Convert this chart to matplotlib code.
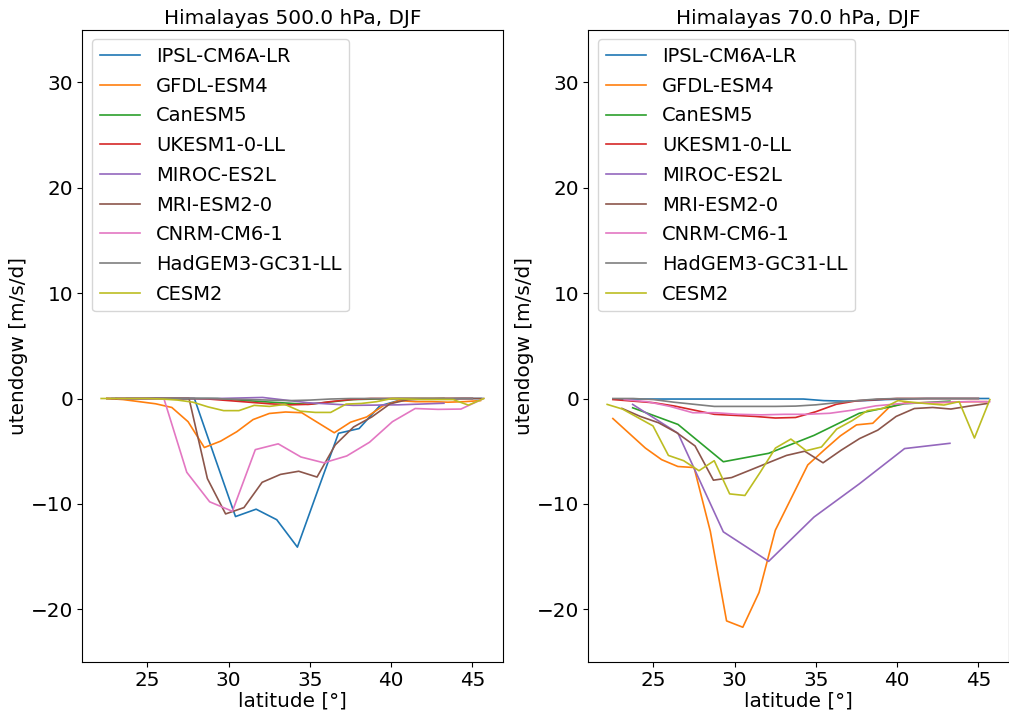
import matplotlib.pyplot as plt

models = ["IPSL-CM6A-LR", "GFDL-ESM4", "CanESM5", "UKESM1-0-LL", "MIROC-ES2L",
          "MRI-ESM2-0", "CNRM-CM6-1", "HadGEM3-GC31-LL", "CESM2"]

# latitude grids of each model
lat_ipsl = [22.82, 24.08, 25.35, 26.62, 27.89, 29.15, 30.42, 31.69, 32.96, 34.23,
            35.49, 36.76, 38.03, 39.3, 40.56, 41.83, 43.1, 44.37, 45.63]
lat_gfdl = [22.5, 23.5, 24.5, 25.5, 26.5, 27.5, 28.5, 29.5, 30.5, 31.5, 32.5, 33.5,
            34.5, 35.5, 36.5, 37.5, 38.5, 39.5, 40.5, 41.5, 42.5, 43.5, 44.5, 45.5]
lat_t42 = [23.72, 26.51, 29.30, 32.09, 34.88, 37.67, 40.46, 43.25]
lat_n96 = [22.5, 23.75, 25.0, 26.25, 27.5, 28.75, 30.0, 31.25, 32.5, 33.75, 35.0,
           36.25, 37.5, 38.75, 40.0, 41.25, 42.5, 43.75, 45.0]
lat_mri = [23.06, 24.19, 25.31, 26.44, 27.56, 28.69, 29.81, 30.94, 32.06, 33.19, 34.31,
           35.44, 36.56, 37.69, 38.81, 39.94, 41.06, 42.19, 43.31, 44.44, 45.56]
lat_cnrm = [23.2, 24.61, 26.02, 27.42, 28.83, 30.23, 31.64, 33.05, 34.45, 35.86,
            37.27, 38.67, 40.08, 41.48, 42.89, 44.30, 45.70]
lat_cesm = [22.15, 23.09, 24.03, 24.97, 25.92, 26.86, 27.80, 28.74, 29.69, 30.63,
            31.57, 32.51, 33.46, 34.40, 35.34, 36.28, 37.23, 38.17, 39.11, 40.05,
            41.0, 41.94, 42.88, 43.82, 44.76, 45.71]
lats = [lat_ipsl, lat_gfdl, lat_t42, lat_n96, lat_t42, lat_mri, lat_cnrm, lat_n96, lat_cesm]

# 500 hPa
ipsl_500 = [0, 0, 0, 0, 0, -5.6, -11.2, -10.5, -11.5, -14.1, -8.7, -3.3, -2.85, -0.7,
            -0.15, -0.05, -0.05, 0, 0]
gfdl_500 = [0, -0.1, -0.3, -0.5, -0.85, -2.2, -4.65, -4.05, -3.15, -2.0, -1.42, -1.28,
            -1.35, -2.3, -3.25, -2.25, -1.75, -0.7, -0.2, -0.3, -0.3, -0.35, -0.3, -0.2]
canesm_500 = [0, 0, 0, -0.3, -0.55, -0.1, 0, 0]
ukesm_500 = [0, 0, 0, 0, 0, -0.05, -0.2, -0.35, -0.5, -0.6, -0.55, -0.3, -0.1, 0, 0,
             0, 0, 0, 0]
miroc_500 = [0, 0, 0, 0.1, -0.4, -0.65, -0.6, -0.45]
mri_500 = [0, 0, 0, 0, 0, -7.6, -10.95, -10.35, -7.95, -7.2, -6.9, -7.45, -4.4, -2.7,
           -1.75, -0.5, -0.1, -0.05, 0, 0, 0]
cnrm_500 = [0, 0, -0.05, -7.0, -9.8, -10.7, -4.85, -4.3, -5.55, -6.1, -5.45, -4.15,
            -2.2, -0.95, -1.03, -1.0, 0.0]
hadgem_500 = [0, 0, 0, 0, 0, 0, -0.05, -0.1, -0.15, -0.2, -0.15, -0.05, 0, 0, 0, 0,
              0, 0, 0]
cesm_500 = [0, 0, 0, 0, -0.05, -0.15, -0.35, -0.8, -1.15, -1.15, -0.65, -0.75, -0.56,
            -1.2, -1.32, -1.32, -0.53, -0.47, -0.3, 0, -0.05, -0.1, -0.1, -0.1, -0.63, 0]

# 70 hPa
ipsl_70 = [-0.05, -0.05, -0.05, -0.05, -0.05, -0.05, -0.05, -0.05, -0.05, -0.05,
           -0.2, -0.25, -0.2, -0.1, -0.05, 0, 0, 0, 0]
gfdl_70 = [-1.9, -3.3, -4.7, -5.8, -6.45, -6.55, -12.6, -21.1, -21.7, -18.4, -12.5,
           -9.4, -6.3, -4.9, -3.55, -2.5, -2.35, -0.85, -0.4, -0.4, -0.4, -0.35, -0.3, -0.3]
canesm_70 = [-0.88, -2.46, -6.0, -5.2, -3.5, -1.4, -0.5, -0.25]
ukesm_70 = [-0.1, -0.25, -0.4, -0.7, -1.1, -1.5, -1.6, -1.7, -1.85, -1.8, -1.25,
            -0.55, -0.22, -0.1, 0, 0, 0, 0, 0]
miroc_70 = [-0.56, -3.3, -12.65, -15.45, -11.25, -8.1, -4.75, -4.25]
mri_70 = [-0.94, -1.7, -2.3, -3.25, -4.5, -7.75, -7.5, -6.8, -6.1, -5.4, -5.0, -6.1,
          -4.9, -3.8, -3.0, -1.7, -0.95, -0.85, -1.0, -0.72, -0.47]
cnrm_70 = [-0.1, -0.3, -0.75, -1.35, -1.35, -1.5, -1.55, -1.5, -1.5, -1.4, -1.1, -0.7,
           -0.5, -0.4, -0.35, -0.3, -0.3]
hadgem_70 = [0, 0, -0.1, -0.35, -0.55, -0.75, -0.75, -0.75, -0.75, -0.72, -0.6, -0.4,
             -0.2, -0.05, 0, 0, 0, 0, 0]
cesm_70 = [-0.56, -1.0, -1.8, -2.6, -5.4, -5.9, -6.85, -5.9, -9.05, -9.2, -7.0, -4.7,
           -3.85, -4.95, -4.6, -2.9, -2.1, -1.15, -0.95, -0.2, -0.37, -0.5, -0.62, -0.3,
           -3.75, -0.1]

vals_500 = [ipsl_500, gfdl_500, canesm_500, ukesm_500, miroc_500, mri_500, cnrm_500,
            hadgem_500, cesm_500]
vals_70 = [ipsl_70, gfdl_70, canesm_70, ukesm_70, miroc_70, mri_70, cnrm_70,
           hadgem_70, cesm_70]

fs = 14.4
fig = plt.figure(figsize=(10.09, 7.13), dpi=100)
ax1 = fig.add_axes([0.0813, 0.0715, 0.4172, 0.887])
ax2 = fig.add_axes([0.5828, 0.0715, 0.4172, 0.887])

for ax, vals, lev in [(ax1, vals_500, "500.0"), (ax2, vals_70, "70.0")]:
    for name, lat, v in zip(models, lats, vals):
        ax.plot(lat, v, label=name, lw=1.2)
    ax.set_ylim(-25, 35)
    ax.set_title("Himalayas " + lev + " hPa, DJF", fontsize=fs, pad=4)
    ax.set_xlabel("latitude [°]", fontsize=fs, labelpad=1)
    ax.set_ylabel("utendogw [m/s/d]", fontsize=fs, labelpad=2)
    ax.tick_params(labelsize=fs, pad=3)
    ax.legend(loc="upper left", fontsize=14, labelspacing=0.55, handlelength=2.1)

plt.savefig("out.png", dpi=100)
